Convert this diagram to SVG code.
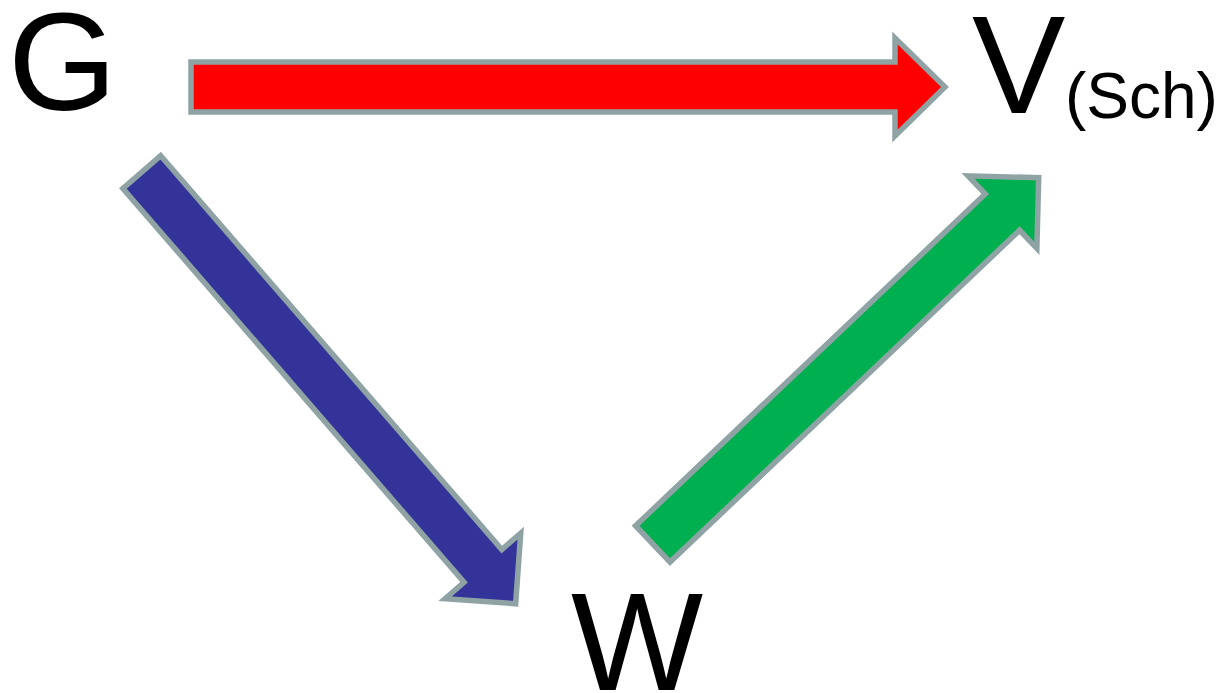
<svg xmlns="http://www.w3.org/2000/svg" width="1223" height="693" viewBox="0 0 1223 693">
  <style>
    .arrow { stroke: #8FA3A4; stroke-width: 5.5; stroke-linejoin: miter; stroke-miterlimit: 10; }
    .lbl { font-family: "Liberation Sans", Arial, sans-serif; fill: #000000; }
  </style>
  <rect width="1223" height="693" fill="#FFFFFF"/>
  <g id="connectors">
    <path id="arrow-G-V" class="arrow" fill="#FF0000" transform="translate(191,87)" d="M0,-25 H704 V-49 L754,0 L704,49 V25 H0 Z"/>
    <path id="arrow-G-W" class="arrow" fill="#333399" transform="translate(141.8,172.1) rotate(49.1)" d="M0,-25 H521 V-50 L571,0 L521,50 V25 H0 Z"/>
    <path id="arrow-W-V" class="arrow" fill="#00B050" transform="translate(652.8,543.9) rotate(-43.5)" d="M0,-25 H482 V-50 L532,0 L482,50 V25 H0 Z"/>
  </g>
  <g id="node-G">
    <text class="lbl" x="8" y="110" font-size="140">G</text>
  </g>
  <g id="node-V">
    <text class="lbl" x="972" y="113" font-size="140">V</text>
    <text class="lbl" x="1065" y="118" font-size="64">(Sch)</text>
  </g>
  <g id="node-W">
    <text class="lbl" x="571" y="690" font-size="140">W</text>
  </g>
</svg>
